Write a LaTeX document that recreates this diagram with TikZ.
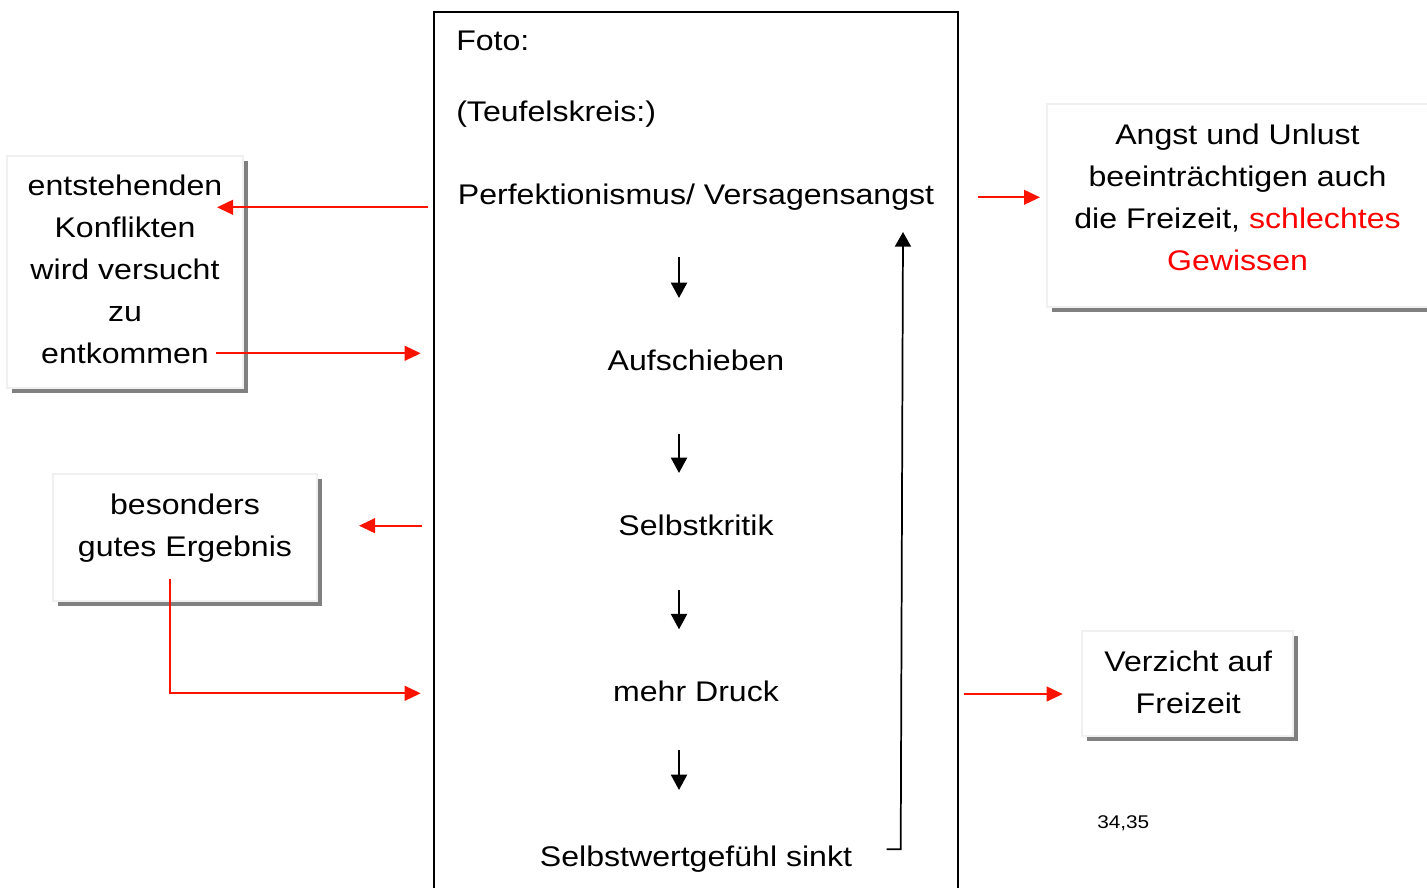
\documentclass[tikz,border=0pt]{standalone}
\usepackage{fontspec}
\setmainfont{Liberation Sans}[FakeStretch=1.13]
\usetikzlibrary{arrows.meta}
\usetikzlibrary{shadows}
\newcommand{\pxl}{0.75pt}
\definecolor{pfeilrot}{RGB}{250,20,0}
\tikzset{txt/.style={font=\fontsize{21.3}{31.5}\selectfont, inner sep=0pt, align=center, anchor=base}}
\tikzset{klein/.style={font=\fontsize{13.8}{16}\selectfont, inner sep=0pt}}
\tikzset{kasten/.style={draw=black!6, line width=1.5pt, fill=white, inner sep=0pt,
  drop shadow={shadow xshift=3.75pt, shadow yshift=-3.75pt, fill=black!50, opacity=1}}}
\tikzset{rpfeil/.style={draw=pfeilrot, line width=1.5pt, -{Triangle[length=12pt,width=11pt]}}}
\tikzset{spfeil/.style={line width=1.6pt, -{Triangle[length=11.5pt,width=12pt]}}}

\begin{document}
\begin{tikzpicture}[x=0.75pt, y=-0.75pt]
    \useasboundingbox (0,0) rectangle (1427,888);
    % Rahmen mit dem Teufelskreis
    \node[draw, line width=1.5pt, inner sep=0pt, minimum width=524*\pxl, minimum height=888*\pxl] (rahmen) at (696,456) {};
    \node[txt, anchor=base west] (foto) at (456,51) {Foto:};
    \node[txt, anchor=base west] (teufel) at (456,122) {(Teufelskreis:)};
    \node[txt] (perf) at (696,204.5) {Perfektionismus/ Versagensangst};
    \node[txt] (aufsch) at (696,370) {Aufschieben};
    \node[txt] (kritik) at (696,535) {Selbstkritik};
    \node[txt] (druck) at (696,701.7) {mehr Druck};
    \node[txt] (wert) at (696,866.7) {Selbstwertgef\"uhl sinkt};
    \foreach \n/\a/\b in {1/257/298, 2/434/473, 3/590/629.3, 4/750/790}{
      \coordinate (p\n o) at (679,\a);
      \coordinate (p\n u) at (679,\b);
      \draw[spfeil] (p\n o) -- (p\n u);
    }
    % Rueckkopplung
    \coordinate (r1) at (886.7,849.3);
    \coordinate (r2) at (900.7,849.3);
    \coordinate (r3) at (903,232);
    \draw[line width=1.3pt, -{Triangle[length=11pt,width=12pt]}] (r1) -- (r2) -- (r3);

    % Kaesten links
    \node[kasten, minimum width=236*\pxl, minimum height=232*\pxl] (konfl) at (125,272) {};
    \node[txt] (konfltxt) at (125,363.3) {entstehenden\\Konflikten\\wird versucht\\zu\\entkommen};
    \node[kasten, minimum width=264.6*\pxl, minimum height=126.4*\pxl] (gut) at (185,537.5) {};
    \node[txt] (guttxt) at (185,556.7) {besonders\\gutes Ergebnis};
    % Kaesten rechts
    \node[kasten, minimum width=382*\pxl, minimum height=203*\pxl] (angst) at (1238,205.8) {};
    \node[txt] (angsttxt) at (1237.5,270) {Angst und Unlust\\beeintr\"achtigen auch\\die Freizeit, \textcolor{red}{schlechtes}\\\textcolor{red}{Gewissen}};
    \node[kasten, minimum width=211.3*\pxl, minimum height=105.3*\pxl] (verz) at (1187.7,683.7) {};
    \node[txt] (verztxt) at (1188.3,713.3) {Verzicht auf\\Freizeit};
    \node[klein, anchor=base west] (seite) at (1097,828.3) {34,35};

    % rote Pfeile
    \coordinate (a1) at (428,207.3);
    \coordinate (a1e) at (217,207.3);
    \draw[rpfeil] (a1) -- (a1e);
    \coordinate (a2) at (216,353.3);
    \coordinate (a2e) at (420.7,353.3);
    \draw[rpfeil] (a2) -- (a2e);
    \coordinate (a3) at (422,525.7);
    \coordinate (a3e) at (359,525.7);
    \draw[rpfeil] (a3) -- (a3e);
    \coordinate (a4) at (170,579);
    \coordinate (a4k) at (170,693.3);
    \coordinate (a4e) at (420.7,693.3);
    \draw[rpfeil] (a4) -- (a4k) -- (a4e);
    \coordinate (a5) at (978,197.3);
    \coordinate (a5e) at (1040,197.3);
    \draw[rpfeil] (a5) -- (a5e);
    \coordinate (a6) at (964,694);
    \coordinate (a6e) at (1062.7,694);
    \draw[rpfeil] (a6) -- (a6e);
\end{tikzpicture}
\end{document}
